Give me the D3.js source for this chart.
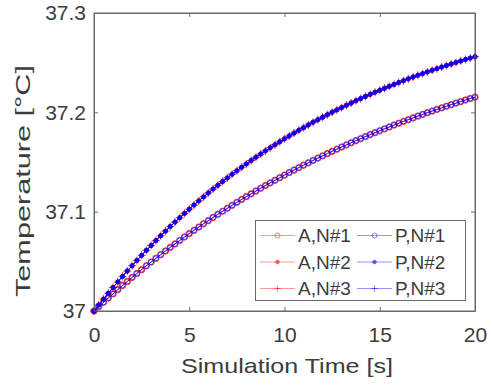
<!DOCTYPE html>
<html>
<head>
<meta charset="utf-8">
<script src="https://cdn.jsdelivr.net/npm/d3@7"></script>
<style>
  html, body { margin: 0; padding: 0; background: #fff; }
  svg { display: block; }
  text { font-family: "Liberation Sans", Arial, Helvetica, sans-serif; fill: #3c3c3c; }
</style>
</head>
<body>
<svg id="chart" width="492" height="385"></svg>
<script>
// ---------------- data ----------------
const timeS = [0,0.25,0.5,0.75,1,1.25,1.5,1.75,2,2.25,2.5,2.75,3,3.25,3.5,3.75,4,4.25,4.5,4.75,
  5,5.25,5.5,5.75,6,6.25,6.5,6.75,7,7.25,7.5,7.75,8,8.25,8.5,8.75,9,9.25,9.5,9.75,
  10,10.25,10.5,10.75,11,11.25,11.5,11.75,12,12.25,12.5,12.75,13,13.25,13.5,13.75,14,14.25,14.5,14.75,
  15,15.25,15.5,15.75,16,16.25,16.5,16.75,17,17.25,17.5,17.75,18,18.25,18.5,18.75,19,19.25,19.5,19.75,20];

// lower curve (N#1)
const tempN1 = [37.0000,37.0044,37.0088,37.0131,37.0173,37.0215,37.0257,37.0297,37.0338,37.0377,
  37.0416,37.0455,37.0493,37.0530,37.0567,37.0604,37.0640,37.0675,37.0710,37.0745,
  37.0779,37.0812,37.0845,37.0878,37.0910,37.0942,37.0973,37.1004,37.1034,37.1064,
  37.1094,37.1123,37.1152,37.1180,37.1208,37.1236,37.1263,37.1290,37.1316,37.1342,
  37.1368,37.1394,37.1419,37.1443,37.1468,37.1492,37.1516,37.1539,37.1562,37.1585,
  37.1607,37.1629,37.1651,37.1672,37.1694,37.1715,37.1735,37.1756,37.1776,37.1795,
  37.1815,37.1834,37.1853,37.1872,37.1890,37.1909,37.1926,37.1944,37.1962,37.1979,
  37.1996,37.2013,37.2029,37.2045,37.2061,37.2077,37.2093,37.2108,37.2124,37.2139,
  37.2153];

// upper curve (N#2, N#3)
const tempN2 = [37.0000,37.0061,37.0120,37.0179,37.0237,37.0293,37.0348,37.0403,37.0456,37.0509,
  37.0560,37.0611,37.0660,37.0709,37.0757,37.0804,37.0850,37.0895,37.0939,37.0983,
  37.1025,37.1067,37.1109,37.1149,37.1189,37.1228,37.1266,37.1304,37.1340,37.1377,
  37.1412,37.1447,37.1481,37.1515,37.1548,37.1580,37.1612,37.1643,37.1674,37.1704,
  37.1734,37.1762,37.1791,37.1819,37.1846,37.1873,37.1900,37.1926,37.1951,37.1976,
  37.2001,37.2025,37.2048,37.2071,37.2094,37.2117,37.2139,37.2160,37.2181,37.2202,
  37.2222,37.2242,37.2262,37.2281,37.2300,37.2319,37.2337,37.2355,37.2373,37.2390,
  37.2407,37.2423,37.2440,37.2456,37.2471,37.2487,37.2502,37.2517,37.2532,37.2546,
  37.2560];
const tempN3 = tempN2;

const seriesNames = ["A,N#1","A,N#2","A,N#3","P,N#1","P,N#2","P,N#3"];
const seriesValues = [tempN1, tempN2, tempN3, tempN1, tempN2, tempN3];
const seriesMarkers = ["circle","dot","plus","circle","dot","plus"];
const seriesColors = ["#ff0000","#ff0000","#ff0000","#0000ff","#0000ff","#0000ff"];
const seriesMarkerScale = [1.15, 1, 1.15, 0.9, 1, 0.75];

const xTicks = [0,5,10,15,20];
const yTicks = [37,37.1,37.2,37.3];
const yTickLabels = ["37","37.1","37.2","37.3"];
const xLabel = "Simulation Time [s]";
const yLabel = "Temperature [\u00B0C]";

// ---------------- drawing ----------------
const svg = d3.select("#chart");
const L = 94, R = 475, T = 13, B = 311;
const x = d3.scaleLinear().domain([0, 20]).range([L, R]);
const y = d3.scaleLinear().domain([37, 37.3]).range([B, T]);
const axisColor = "#6a6a6a";

svg.append("rect").attr("x", 0).attr("y", 0).attr("width", 492).attr("height", 385).attr("fill", "#fff");

function styleAxis(g) {
  g.selectAll("path").attr("stroke", axisColor).attr("stroke-width", 1);
  g.selectAll("line").attr("stroke", axisColor).attr("stroke-width", 1);
  g.selectAll("text").style("font-size", "21px").attr("fill", "#3c3c3c");
  g.attr("font-family", null).attr("font-size", null);
}

svg.append("g").attr("transform", `translate(0,${B})`)
  .call(d3.axisBottom(x).tickValues(xTicks).tickFormat(d3.format("d"))
    .tickSizeInner(-4).tickSizeOuter(0).tickPadding(16))
  .call(styleAxis);
svg.append("g").attr("transform", `translate(0,${T})`)
  .call(d3.axisTop(x).tickValues(xTicks).tickFormat("").tickSizeInner(-4).tickSizeOuter(0))
  .call(styleAxis);
svg.append("g").attr("transform", `translate(${L},0)`)
  .call(d3.axisLeft(y).tickValues(yTicks).tickFormat((d, i) => yTickLabels[i])
    .tickSizeInner(-4).tickSizeOuter(0).tickPadding(8))
  .call(styleAxis);
svg.append("g").attr("transform", `translate(${R},0)`)
  .call(d3.axisRight(y).tickValues(yTicks).tickFormat("").tickSizeInner(-4).tickSizeOuter(0))
  .call(styleAxis);

svg.append("text").attr("x", 287).attr("y", 373).attr("text-anchor", "middle")
  .style("font-size", "21px").attr("textLength", 212).attr("lengthAdjust", "spacingAndGlyphs")
  .text(xLabel);
svg.append("text").attr("transform", "translate(30,181) rotate(-90)").attr("text-anchor", "middle")
  .style("font-size", "21px").attr("textLength", 232).attr("lengthAdjust", "spacingAndGlyphs")
  .text(yLabel);

function drawMarker(sel, type, color, k) {
  k = k || 1;
  if (type === "circle") {
    sel.append("circle").attr("r", 2.8 * k).attr("fill", "none").attr("stroke", color).attr("stroke-width", 0.8);
  } else if (type === "dot") {
    sel.append("circle").attr("r", 2.2 * k).attr("fill", color).attr("stroke", color).attr("stroke-width", 0.5);
  } else {
    const a = 3.5 * k;
    sel.append("path").attr("d", `M${-a},0H${a}M0,${-a}V${a}`).attr("stroke", color).attr("stroke-width", 0.8).attr("fill", "none");
  }
}

const plot = svg.append("g");
const line = d3.line().x(d => x(d[0])).y(d => y(d[1]));
seriesValues.forEach((vals, s) => {
  const pts = timeS.map((t, i) => [t, vals[i]]);
  const g = plot.append("g");
  g.append("path").attr("d", line(pts)).attr("fill", "none")
    .attr("stroke", seriesColors[s]).attr("stroke-width", 0.8);
  g.selectAll("g.m").data(pts).enter().append("g").attr("class", "m")
    .attr("transform", d => `translate(${x(d[0])},${y(d[1])})`)
    .each(function () { drawMarker(d3.select(this), seriesMarkers[s], seriesColors[s], seriesMarkerScale[s]); });
});

svg.append("rect").attr("x", L).attr("y", T).attr("width", R - L).attr("height", B - T)
  .attr("fill", "none").attr("stroke", axisColor).attr("stroke-width", 1);

// legend
const lg = svg.append("g");
lg.append("rect").attr("x", 255.5).attr("y", 220.5).attr("width", 210).attr("height", 80)
  .attr("fill", "#fff").attr("stroke", axisColor).attr("stroke-width", 1);
const rowY = [235.5, 262, 288.5];
const colX = [260, 357];
seriesNames.forEach((name, s) => {
  const col = Math.floor(s / 3), row = s % 3;
  const x0 = colX[col], yy = rowY[row];
  lg.append("line").attr("x1", x0).attr("x2", x0 + 35).attr("y1", yy).attr("y2", yy)
    .attr("stroke", seriesColors[s]).attr("stroke-width", 0.7).attr("stroke-opacity", 0.6);
  const m = lg.append("g").attr("transform", `translate(${x0 + 17.5},${yy})`).attr("opacity", 0.6);
  drawMarker(m, seriesMarkers[s], seriesColors[s], 0.9);
  lg.append("text").attr("x", x0 + 38).attr("y", yy).attr("dy", "0.35em")
    .style("font-size", "19px").text(name);
});
</script>
</body>
</html>
